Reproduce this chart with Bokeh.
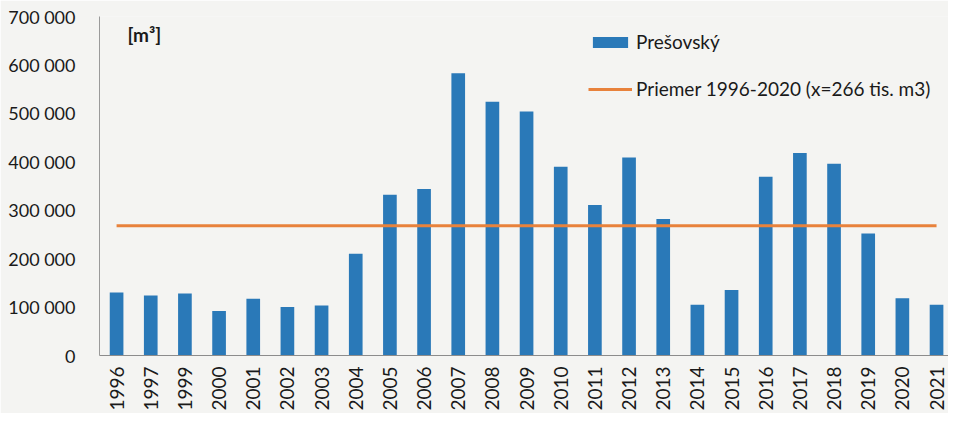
import math
from bokeh.plotting import figure
from bokeh.models import (ColumnDataSource, Range1d, LinearAxis, FixedTicker,
                          Legend, LegendItem, Label)
from bokeh.embed import file_html
from bokeh.resources import INLINE

# ---- data ----
years = ["1996", "1997", "1999", "2000", "2001", "2002", "2003", "2004", "2005",
         "2006", "2007", "2008", "2009", "2010", "2011", "2012", "2013", "2014",
         "2015", "2016", "2017", "2018", "2019", "2020", "2021"]
presovsky = [130000, 124000, 128000, 92000, 117000, 100000, 103000, 210000, 332000,
             344000, 583000, 524000, 504000, 390000, 311000, 409000, 282000, 105000,
             135000, 369000, 418000, 396000, 252000, 118000, 105000]
average = [268000] * len(years)
y_ticks = [0, 100000, 200000, 300000, 400000, 500000, 600000, 700000]
y_tick_labels = ["0", "100 000", "200 000", "300 000", "400 000", "500 000",
                 "600 000", "700 000"]
series_name = "Prešovský"
avg_name = "Priemer 1996-2020 (x=266 tis. m3)"
unit_label = "[m³]"

FONT = "Lato"
BG = "#f4f4f2"
BLUE = "#2a79b8"
ORANGE = "#e8823c"

idx = list(range(len(years)))
src = ColumnDataSource(dict(x=idx, year=years, val=presovsky, avg=average))

p = figure(width=948, height=413, output_backend="svg", toolbar_location=None,
           x_range=Range1d(-0.5, 24.35), y_range=Range1d(0, 700000),
           x_axis_type=None, y_axis_type=None,
           background_fill_color=BG, border_fill_color=BG,
           min_border_left=99, min_border_right=0, min_border_top=16,
           min_border_bottom=40)
p.outline_line_color = None
p.xgrid.visible = False
p.ygrid.visible = False

bars = p.vbar(x="x", top="val", width=0.4, source=src, fill_color=BLUE,
              line_color=None)
line = p.line(x="x", y="avg", source=src, line_color=ORANGE, line_width=3)

yaxis = LinearAxis(ticker=FixedTicker(ticks=y_ticks),
                   major_label_overrides={t: l for t, l in zip(y_ticks, y_tick_labels)})
yaxis.major_tick_line_color = None
yaxis.minor_tick_line_color = None
yaxis.axis_line_color = "#9a9a9a"
yaxis.major_label_standoff = 18
yaxis.major_label_text_font = FONT
yaxis.major_label_text_font_size = "18px"
yaxis.major_label_text_color = "#1a1a1a"
p.add_layout(yaxis, "left")

xaxis = LinearAxis(ticker=FixedTicker(ticks=idx),
                   major_label_overrides={i: y for i, y in zip(idx, years)})
xaxis.major_tick_line_color = None
xaxis.minor_tick_line_color = None
xaxis.axis_line_color = "#8c8c8c"
xaxis.major_label_orientation = math.pi / 2
xaxis.major_label_standoff = 5
xaxis.major_label_text_font = FONT
xaxis.major_label_text_font_size = "19px"
xaxis.major_label_text_color = "#1a1a1a"
p.add_layout(xaxis, "below")

legend = Legend(items=[LegendItem(label=series_name, renderers=[bars]),
                       LegendItem(label=avg_name, renderers=[line])],
                location=(489, 255), orientation="vertical",
                glyph_width=44, glyph_height=14, label_standoff=4,
                spacing=24, padding=0, margin=0,
                background_fill_alpha=0, border_line_color=None,
                label_text_font=FONT, label_text_font_size="19px",
                label_text_color="#1a1a1a")
p.add_layout(legend, "center")

p.add_layout(Label(x=28, y=310, x_units="screen", y_units="screen",
                   text=unit_label, text_font=FONT, text_font_size="19px",
                   text_font_style="bold", text_color="#1a1a1a"))

open("out.html", "w").write(file_html(p, INLINE))
